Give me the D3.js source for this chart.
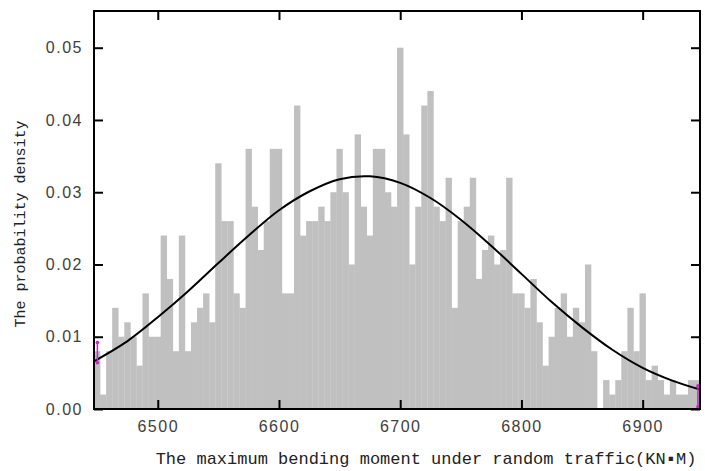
<!DOCTYPE html>
<html>
<head>
    <title>Maximum bending moment histogram</title>
    <script src="https://cdn.jsdelivr.net/npm/d3@7/dist/d3.min.js"></script>
    <style>
        body { margin: 0; background: #fff; }
        .tick-label {
            font-family: "Liberation Sans", Arial, sans-serif;
            font-size: 16px;
            letter-spacing: 1.5px;
            fill: #404040;
        }
        .axis-title {
            font-family: "Liberation Mono", "DejaVu Sans Mono", monospace;
            fill: #222;
        }
    </style>
</head>
<body>
    <div id="chart"></div>

    <script>
        // histogram: 100 bins of width 5, starting at the data minimum
        const binStart = 6447.4;
        const binWidth = 5;
        const density = [
            0.008, 0.002, 0.008, 0.014, 0.010, 0.012, 0.010, 0.006, 0.016, 0.010,
            0.010, 0.024, 0.018, 0.008, 0.024, 0.008, 0.012, 0.014, 0.016, 0.012,
            0.034, 0.026, 0.026, 0.016, 0.014, 0.036, 0.028, 0.022, 0.026, 0.036,
            0.036, 0.016, 0.016, 0.042, 0.024, 0.026, 0.026, 0.028, 0.026, 0.030,
            0.036, 0.030, 0.020, 0.038, 0.028, 0.024, 0.036, 0.036, 0.030, 0.028,
            0.050, 0.038, 0.020, 0.028, 0.042, 0.044, 0.028, 0.026, 0.032, 0.014,
            0.026, 0.028, 0.032, 0.018, 0.022, 0.024, 0.020, 0.022, 0.032, 0.016,
            0.016, 0.014, 0.018, 0.012, 0.006, 0.010, 0.014, 0.016, 0.010, 0.014,
            0.012, 0.020, 0.008, 0.000, 0.004, 0.002, 0.004, 0.008, 0.014, 0.008,
            0.016, 0.004, 0.006, 0.004, 0.002, 0.004, 0.002, 0.002, 0.004, 0.004
        ];

        // fitted density curve
        const curveX = [6447.4, 6475, 6500, 6525, 6550, 6575, 6600, 6625, 6650, 6675, 6700,
                        6725, 6750, 6775, 6800, 6825, 6850, 6875, 6900, 6925, 6947.3];
        const curveY = [0.0066, 0.0094, 0.0127, 0.0163, 0.0202, 0.0240, 0.0275, 0.0301, 0.0318, 0.0322, 0.0313,
                        0.0292, 0.0262, 0.0226, 0.0187, 0.0148, 0.0113, 0.0082, 0.0057, 0.0039, 0.0027];

        // small magenta markers at both ends of the curve
        const markX = [6450.2, 6945.6];
        const markLo = [0.0064, 0.0003];
        const markHi = [0.0092, 0.0032];

        const xTicks = [6500, 6600, 6700, 6800, 6900];
        const yTicks = [0.00, 0.01, 0.02, 0.03, 0.04, 0.05];

        const margin = { top: 11, right: 5, bottom: 62, left: 94 };
        const width = 705 - margin.left - margin.right;
        const height = 471 - margin.top - margin.bottom;

        const svg = d3.select('#chart')
            .append('svg')
            .attr('width', 705)
            .attr('height', 471)
            .append('g')
            .attr('transform', 'translate(' + margin.left + ',' + margin.top + ')');

        const x = d3.scaleLinear()
            .domain([6447.4, 6947.3])
            .range([0, width]);

        const y = d3.scaleLinear()
            .domain([0, 0.05508])
            .range([height, 0]);

        // bars
        svg.selectAll('.bar')
            .data(density)
            .enter()
            .append('rect')
            .attr('class', 'bar')
            .attr('x', function(d, i) { return x(binStart + i * binWidth); })
            .attr('width', function(d, i) { return x(binStart + (i + 1) * binWidth) - x(binStart + i * binWidth) + 0.3; })
            .attr('y', function(d) { return y(d); })
            .attr('height', function(d) { return height - y(d); })
            .attr('fill', '#c0c0c0');

        // curve
        const pts = curveX.map(function(v, i) { return [v, curveY[i]]; });
        svg.append('path')
            .datum(pts)
            .attr('fill', 'none')
            .attr('stroke', '#000')
            .attr('stroke-width', 2)
            .attr('d', d3.line()
                .curve(d3.curveCatmullRom)
                .x(function(d) { return x(d[0]); })
                .y(function(d) { return y(d[1]); })
            );

        // magenta end markers
        markX.forEach(function(v, i) {
            svg.append('line')
                .attr('x1', x(v)).attr('x2', x(v))
                .attr('y1', y(markLo[i])).attr('y2', y(markHi[i]))
                .attr('stroke', '#d020d0')
                .attr('stroke-width', 1.5);
            [markLo[i], markHi[i]].forEach(function(m) {
                svg.append('circle')
                    .attr('cx', x(v)).attr('cy', y(m))
                    .attr('r', 1.8)
                    .attr('fill', '#d020d0');
            });
        });

        // ticks pointing inward on all four sides
        const tickLen = 9;
        const axisBottom = svg.append('g')
            .attr('transform', 'translate(0,' + height + ')')
            .call(d3.axisBottom(x).tickValues(xTicks).tickSizeInner(-tickLen).tickSizeOuter(0).tickPadding(12).tickFormat(d3.format('d')));
        const axisTop = svg.append('g')
            .call(d3.axisTop(x).tickValues(xTicks).tickSizeInner(-tickLen).tickSizeOuter(0).tickFormat(''));
        const axisLeft = svg.append('g')
            .call(d3.axisLeft(y).tickValues(yTicks).tickSizeInner(-tickLen).tickSizeOuter(0).tickPadding(11).tickFormat(d3.format('.2f')));
        const axisRight = svg.append('g')
            .attr('transform', 'translate(' + width + ',0)')
            .call(d3.axisRight(y).tickValues(yTicks).tickSizeInner(-tickLen).tickSizeOuter(0).tickFormat(''));

        [axisBottom, axisTop, axisLeft, axisRight].forEach(function(a) {
            a.select('.domain').remove();
            a.selectAll('line').attr('stroke', '#000').attr('stroke-width', 2);
            a.selectAll('text').attr('class', 'tick-label').attr('font-family', null).attr('font-size', null);
        });

        // frame
        svg.append('rect')
            .attr('x', 0)
            .attr('y', 0)
            .attr('width', width)
            .attr('height', height)
            .attr('fill', 'none')
            .attr('stroke', '#000')
            .attr('stroke-width', 2);

        // axis titles
        svg.append('text')
            .attr('class', 'axis-title')
            .attr('x', 426 - margin.left)
            .attr('y', height + 55)
            .style('font-size', '17px')
            .style('text-anchor', 'middle')
            .text('The maximum bending moment under random traffic(KN\u25AAM)');

        svg.append('text')
            .attr('class', 'axis-title')
            .attr('transform', 'rotate(-90)')
            .attr('x', -(224 - margin.top))
            .attr('y', 25 - margin.left)
            .style('font-size', '15px')
            .style('text-anchor', 'middle')
            .text('The probability density');
    </script>
</body>
</html>
